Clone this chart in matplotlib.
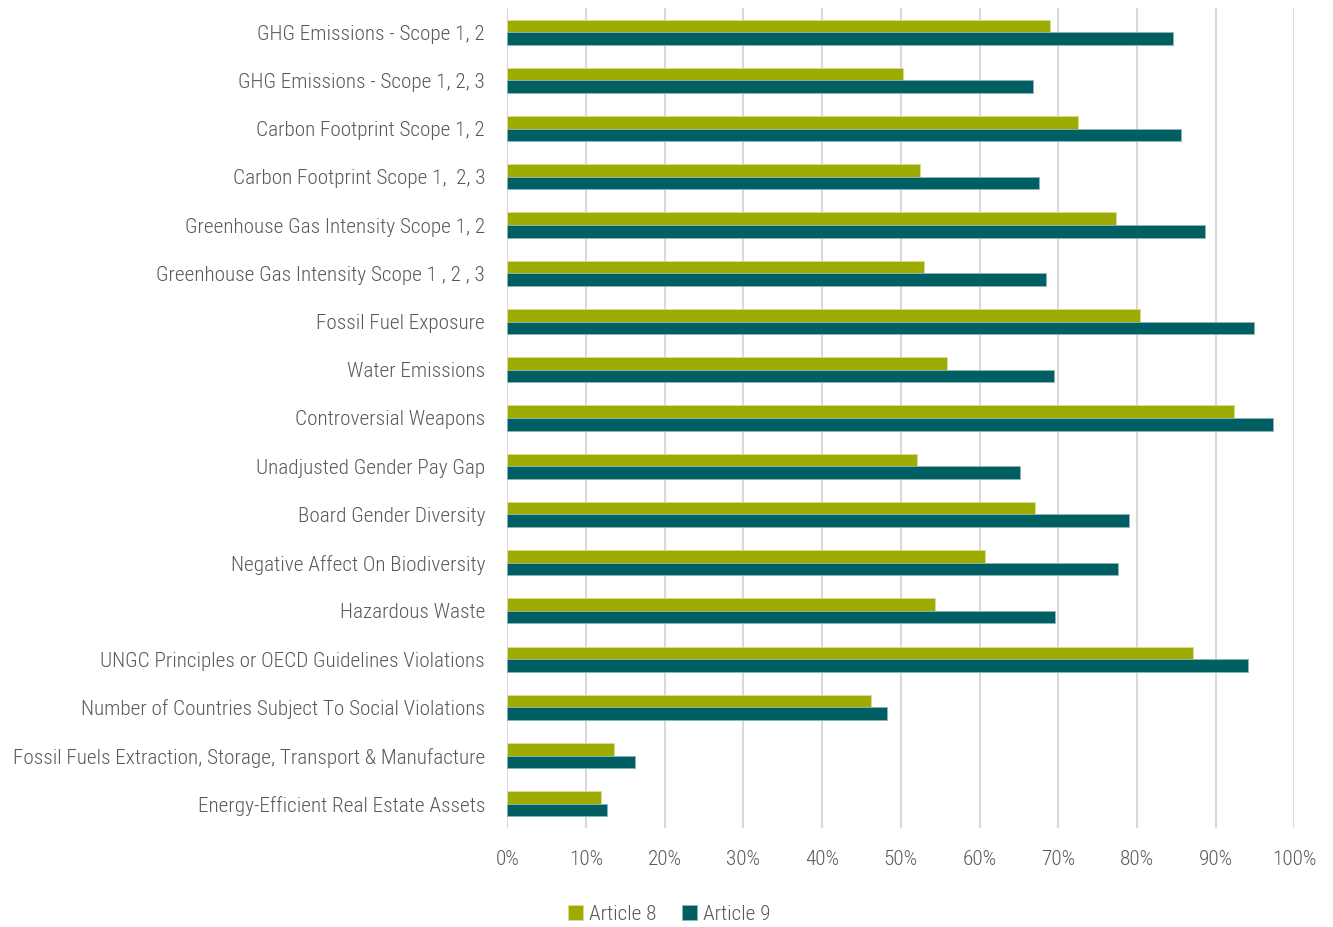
import matplotlib
matplotlib.use("Agg")
import matplotlib.pyplot as plt
from matplotlib import font_manager
import numpy as np

names = {f.name for f in font_manager.fontManager.ttflist}
prefs = ["Roboto Condensed", "Fira Sans Condensed", "Barlow Semi Condensed",
         "IBM Plex Sans Condensed", "Archivo Narrow", "Liberation Sans"]
FONT = next(n for n in prefs if n in names)
plt.rcParams["font.family"] = [FONT, "DejaVu Sans"]
plt.rcParams["font.weight"] = 300

categories = [
    "GHG Emissions - Scope 1, 2",
    "GHG Emissions - Scope 1, 2, 3",
    "Carbon Footprint Scope 1, 2",
    "Carbon Footprint Scope 1,  2, 3",
    "Greenhouse Gas Intensity Scope 1, 2",
    "Greenhouse Gas Intensity Scope 1 , 2 , 3",
    "Fossil Fuel Exposure",
    "Water Emissions",
    "Controversial Weapons",
    "Unadjusted Gender Pay Gap",
    "Board Gender Diversity",
    "Negative Affect On Biodiversity",
    "Hazardous Waste",
    "UNGC Principles or OECD Guidelines Violations",
    "Number of Countries Subject To Social Violations",
    "Fossil Fuels Extraction, Storage, Transport & Manufacture",
    "Energy-Efficient Real Estate Assets",
]
article8 = [69.0, 50.3, 72.5, 52.4, 77.4, 52.9, 80.4, 55.9, 92.3, 52.1,
            67.0, 60.7, 54.4, 87.1, 46.2, 13.5, 11.9]
article9 = [84.6, 66.8, 85.6, 67.6, 88.7, 68.4, 94.9, 69.4, 97.3, 65.1,
            79.0, 77.6, 69.6, 94.1, 48.3, 16.2, 12.7]
xticks = list(range(0, 101, 10))

C8 = "#9eab00"
C9 = "#005f63"
TXT = "#595959"

fig = plt.figure(figsize=(13.33, 9.27), dpi=100)
ax = fig.add_axes([0.3806, 0.1068, 0.5904, 0.8846])

y = np.arange(len(categories))
h = 0.26
ax.barh(y - h / 2, article8, height=h, color=C8, edgecolor="#d8dc9a", linewidth=0.6,
        label="Article 8", zorder=3)
ax.barh(y + h / 2, article9, height=h, color=C9, edgecolor="#8fb5b7", linewidth=0.6,
        label="Article 9", zorder=3)

ax.set_xlim(0, 100)
ax.set_ylim(len(categories) - 0.5, -0.5)
ax.set_xticks(xticks)
ax.set_xticklabels([f"{t}%" for t in xticks])
ax.set_yticks(y)
ax.set_yticklabels(categories)
ax.tick_params(axis="both", length=0, labelsize=15, colors=TXT)
ax.tick_params(axis="y", pad=16)
ax.tick_params(axis="x", pad=16)
ax.xaxis.grid(True, color="#d9d9d9", linewidth=1.5, zorder=0)
for s in ax.spines.values():
    s.set_visible(False)

# fit the label size to the width of the longest label in the original (~475 px)
fig.canvas.draw()
r = fig.canvas.get_renderer()
w = max(t.get_window_extent(r).width for t in ax.get_yticklabels())
fs = 15 * 475 / w
ax.tick_params(axis="both", labelsize=fs)

fig.legend(loc="center", bbox_to_anchor=(0.502, 0.014), ncol=2, frameon=False,
           fontsize=fs, labelcolor=TXT, handlelength=0.7, handleheight=0.7,
           handletextpad=0.3, columnspacing=1.2)

fig.savefig("out.png", dpi=100)
